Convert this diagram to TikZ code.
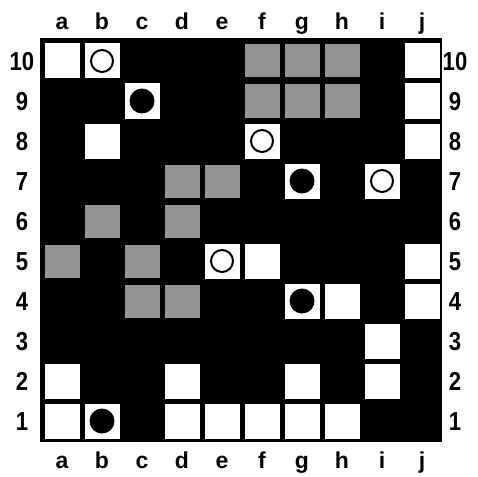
\documentclass[tikz,border=0pt]{standalone}
\usepackage{fontspec}
\setmainfont{Liberation Sans}
\begin{document}
\begin{tikzpicture}[x=1pt,y=-1pt,
  board/.style={fill=black},
  wsq/.style={rectangle,fill=white,minimum width=35pt,minimum height=35pt,inner sep=0pt},
  gsq/.style={rectangle,fill=black!42,minimum width=35pt,minimum height=33pt,inner sep=0pt},
  ocirc/.style={circle,draw=black,line width=2pt,fill=white,minimum size=22pt,inner sep=0pt},
  fcirc/.style={circle,fill=black,minimum size=25pt,inner sep=0pt},
  collab/.style={font=\fontsize{23}{23}\selectfont\bfseries,anchor=base,inner sep=0pt},
  rowlab/.style={font=\fontsize{26}{26}\selectfont\bfseries,anchor=base,inner sep=0pt}]
\useasboundingbox (0,0) rectangle (478,476);
\fill[board] (40,38) rectangle (442,442);
% white squares
\foreach \k/\r in {1/10,2/10,10/10,3/9,10/9,2/8,6/8,10/8,7/7,9/7,5/5,6/5,10/5,7/4,8/4,10/4,9/3,1/2,4/2,7/2,9/2,1/1,2/1,4/1,5/1,6/1,7/1,8/1}
  \node[wsq] (w-\k-\r) at ({22+40*\k},{461-40*\r}) {};
% gray squares
\foreach \k/\r in {6/10,7/10,8/10,6/9,7/9,8/9,4/7,5/7,2/6,4/6,1/5,3/5,3/4,4/4}
  \node[gsq] (g-\k-\r) at ({22+40*\k},{461-40*\r}) {};
% open circles
\foreach \k/\r in {2/10,6/8,9/7,5/5}
  \node[ocirc] (o-\k-\r) at (w-\k-\r.center) {};
% filled circles
\foreach \k/\r in {3/9,7/7,7/4,2/1}
  \node[fcirc] (f-\k-\r) at (w-\k-\r.center) {};
% column labels
\foreach \l [count=\k] in {a,b,c,d,e,f,g,h,i,j} {
  \node[collab] (ct-\k) at ({22+40*\k},30) {\l};
  \node[collab] (cb-\k) at ({22+40*\k},468) {\l};
}
% row labels
\foreach \r in {1,...,10} {
  \node[rowlab] (rl-\r) at (22,{470.5-40*\r}) {\scalebox{0.85}[1]{\r}};
  \node[rowlab] (rr-\r) at (455,{470.5-40*\r}) {\scalebox{0.85}[1]{\r}};
}
\end{tikzpicture}
\end{document}
